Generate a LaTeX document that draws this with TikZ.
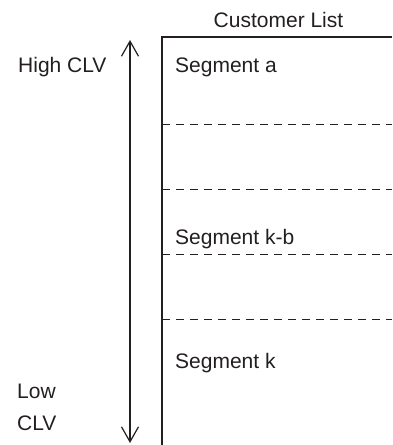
\documentclass[tikz,border=0pt]{standalone}
\usepackage{fontspec}
\setmainfont{Liberation Sans}
\usetikzlibrary{arrows.meta}
\definecolor{inkBlack}{HTML}{231F20}
\tikzset{
    LabelText/.style={font=\fontsize{21}{25}\selectfont, text=inkBlack, inner sep=0pt},
    FrameLine/.style={draw=inkBlack, line width=1.2pt},
    SplitLine/.style={draw=inkBlack, line width=1pt, dash pattern=on 8pt off 6pt},
    ValueArrow/.style={{Straight Barb[length=15pt, width=17pt]}-{Straight Barb[length=15pt, width=17pt]}, draw=inkBlack, line width=1.2pt}
}

\begin{document}
\begin{tikzpicture}[x=1pt, y=-1pt]
    \useasboundingbox (0, 0) rectangle (392, 445);

    % list frame, open to the right and below
    \node[LabelText, anchor=base] (title) at (278.5, 27) {Customer List};
    \draw[FrameLine] (392, 37) -- (162, 37) -- (162, 445);

    % segment separators
    \foreach \yy in {124, 189, 254, 319} {
        \draw[SplitLine] (162, \yy) -- (392, \yy);
    }

    \node[LabelText, anchor=base west] (sega) at (175, 72) {Segment a};
    \node[LabelText, anchor=base west] (segkb) at (175, 244) {Segment k-b};
    \node[LabelText, anchor=base west] (segk) at (175, 368) {Segment k};

    % CLV scale
    \coordinate (clvTop) at (130, 40);
    \coordinate (clvBottom) at (130, 443);
    \draw[ValueArrow] (clvTop) -- (clvBottom);

    \node[LabelText, anchor=base west] (high) at (18, 72) {High CLV};
    \node[LabelText, anchor=base west] (low) at (17, 398) {Low};
    \node[LabelText, anchor=base west] (lowclv) at (17, 430) {CLV};
\end{tikzpicture}
\end{document}
